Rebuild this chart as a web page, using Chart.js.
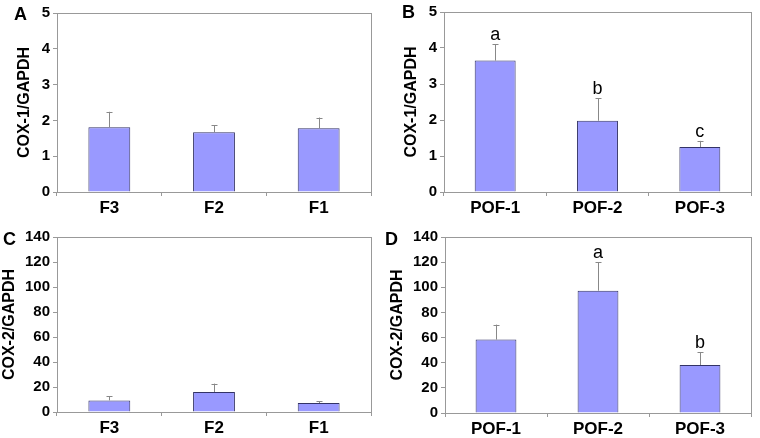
<!DOCTYPE html>
<html>
<head>
<meta charset="utf-8">
<script src="https://cdn.jsdelivr.net/npm/chart.js@4"></script>
<style>
  body { margin: 0; background: #fff; }
  #wrap { position: relative; width: 760px; height: 438px; font-family: "Liberation Sans", Arial, sans-serif; }
  .panel { position: absolute; width: 380px; height: 219px; }
  .tag { position: absolute; font-weight: bold; font-size: 18px; line-height: 18px; color: #000; }
</style>
</head>
<body>
<div id="wrap">
  <div class="panel" style="left:0;top:0"><canvas id="cA"></canvas></div>
  <div class="panel" style="left:380px;top:0"><canvas id="cB"></canvas></div>
  <div class="panel" style="left:0;top:219px"><canvas id="cC"></canvas></div>
  <div class="panel" style="left:380px;top:219px"><canvas id="cD"></canvas></div>
  <div class="tag" style="left:14px;top:5px">A</div>
  <div class="tag" style="left:402px;top:3px">B</div>
  <div class="tag" style="left:3px;top:230px">C</div>
  <div class="tag" style="left:385px;top:230px">D</div>
</div>
<script>
// data
const fLabels = ['F3', 'F2', 'F1'];
const pofLabels = ['POF-1', 'POF-2', 'POF-3'];

const cox1F = [1.81, 1.67, 1.78];
const cox1FErr = [0.43, 0.19, 0.30];
const cox1Pof = [3.65, 1.98, 1.25];
const cox1PofErr = [0.46, 0.63, 0.17];

const cox2F = [9.3, 16.0, 7.2];
const cox2FErr = [3.5, 6.7, 1.6];
const cox2Pof = [58.4, 97.3, 38.2];
const cox2PofErr = [11.9, 22.7, 10.3];

const cox1Marks = ['a', 'b', 'c'];
const cox2Marks = ['', 'a', 'b'];

const FONT = '"Liberation Sans", Arial, sans-serif';

// error bars, letters and plot frame
const extras = {
  id: 'extras',
  afterDatasetsDraw(chart, args, opts) {
    const { ctx, chartArea: a, scales: { x, y } } = chart;
    const meta = chart.getDatasetMeta(0);
    ctx.save();
    ctx.strokeStyle = '#999';
    ctx.lineWidth = 1;
    ctx.strokeRect(a.left + 0.5, a.top + 0.5, a.right - a.left, a.bottom - a.top);
    chart.data.datasets[0].data.forEach((v, i) => {
      const px = meta.data[i].x;
      const y0 = y.getPixelForValue(v);
      const y1 = y.getPixelForValue(v + opts.err[i]);
      ctx.strokeStyle = '#888';
      ctx.beginPath();
      ctx.moveTo(Math.round(px) + 0.5, y0);
      ctx.lineTo(Math.round(px) + 0.5, y1);
      ctx.moveTo(Math.round(px) - 2.5, Math.round(y1) + 0.5);
      ctx.lineTo(Math.round(px) + 3.5, Math.round(y1) + 0.5);
      ctx.stroke();
      if (opts.marks && opts.marks[i]) {
        ctx.fillStyle = '#000';
        ctx.font = '18px ' + FONT;
        ctx.textAlign = 'center';
        ctx.textBaseline = 'alphabetic';
        ctx.fillText(opts.marks[i], px, y1 - 4);
      }
    });
    ctx.restore();
  }
};

function makeChart(id, labels, values, err, marks, max, step, title, box) {
  return new Chart(document.getElementById(id), {
    type: 'bar',
    data: {
      labels: labels,
      datasets: [{
        data: values,
        backgroundColor: '#9999ff',
        borderColor: '#333366',
        borderWidth: 1,
        categoryPercentage: 1,
        barPercentage: 0.4
      }]
    },
    options: {
      responsive: false,
      animation: false,
      layout: { padding: { left: 0, right: box.right, top: box.top, bottom: 0 } },
      plugins: {
        legend: { display: false },
        tooltip: { enabled: false },
        extras: { err: err, marks: marks }
      },
      scales: {
        x: {
          afterFit(s) { s.height = box.xh; },
          grid: { offset: true, drawOnChartArea: false, tickLength: 4, color: '#999' },
          border: { color: '#999' },
          ticks: { color: '#000', font: { family: FONT, size: 17, weight: 'bold' }, padding: 2 },
        },
        y: {
          min: 0,
          max: max,
          afterFit(s) { s.width = box.yw; },
          grid: { drawOnChartArea: false, tickLength: 4, color: '#999' },
          border: { color: '#999' },
          ticks: { stepSize: step, color: '#000', font: { family: FONT, size: 15, weight: 'bold' }, padding: 3 },
          title: { display: true, text: title, color: '#000', font: { family: FONT, size: 16, weight: 'bold' }, padding: { top: box.tp, bottom: 0 } }
        }
      }
    },
    plugins: [extras]
  });
}

function sized(id) {
  const c = document.getElementById(id);
  c.width = 380; c.height = 219;
  c.style.width = '380px'; c.style.height = '219px';
}
['cA', 'cB', 'cC', 'cD'].forEach(sized);

makeChart('cA', fLabels, cox1F, cox1FErr, null, 5, 1, 'COX-1/GAPDH', { yw: 57, xh: 27, top: 13, right: 9, tp: 15 });
makeChart('cB', pofLabels, cox1Pof, cox1PofErr, cox1Marks, 5, 1, 'COX-1/GAPDH', { yw: 64, xh: 27, top: 10, right: 9, tp: 22 });
makeChart('cC', fLabels, cox2F, cox2FErr, null, 140, 20, 'COX-2/GAPDH', { yw: 57, xh: 26, top: 18, right: 9, tp: 0 });
makeChart('cD', pofLabels, cox2Pof, cox2PofErr, cox2Marks, 140, 20, 'COX-2/GAPDH', { yw: 65, xh: 25, top: 18, right: 9, tp: 8 });
</script>
</body>
</html>
